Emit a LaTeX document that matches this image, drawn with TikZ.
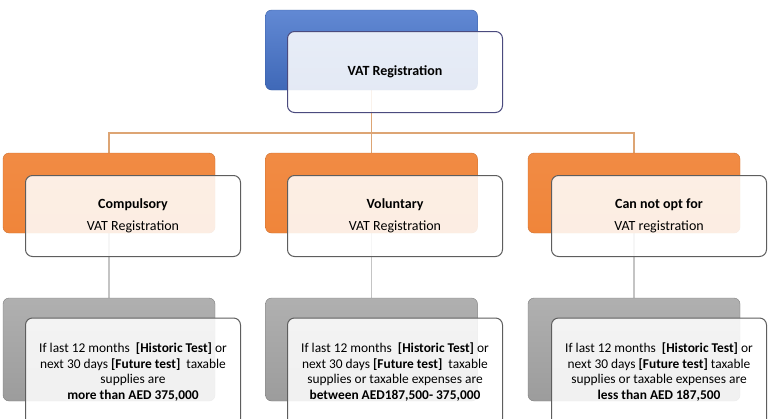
\documentclass[tikz,border=0pt]{standalone}
\usepackage{fontspec}
\setmainfont{Carlito}
\usepackage{xcolor}
\usepackage{tikz}
\usetikzlibrary{backgrounds}
\definecolor{vatblue}{HTML}{4674CC}
\definecolor{vatorange}{HTML}{F0853A}
\definecolor{vatgray}{HTML}{9C9C9C}
\definecolor{edgegray}{HTML}{5E5E5E}
\definecolor{barline}{HTML}{DDA574}
\definecolor{stemline}{HTML}{C4C4C4}
\newcommand{\condtext}[2]{If last 12 months~~\textbf{[Historic Test]} or\\
  next 30 days \textbf{[Future test]}#1taxable\\ #2}

\begin{document}
\begin{tikzpicture}[x=1pt, y=-1pt,
  back/.style={rounded corners=6pt, inner sep=0pt, minimum width=212pt,
               minimum height=80pt},
  bluebox/.style={back, draw=vatblue!80!black, top color=vatblue!85!white,
                  bottom color=vatblue!90!black},
  orangebox/.style={back, draw=vatorange!85!black, top color=vatorange!95!white,
                    bottom color=vatorange},
  graybox/.style={back, minimum height=103pt, draw=vatgray!80!black,
                  top color=vatgray!80!white, bottom color=vatgray},
  front/.style={draw=edgegray, line width=1pt, fill=white, fill opacity=0.86,
                text opacity=1, rounded corners=7pt, inner sep=0pt,
                minimum width=215pt, minimum height=81pt, align=center,
                font=\fontsize{14}{15.5}\selectfont},
  testbox/.style={front, minimum height=108pt,
                  font=\fontsize{13.4}{15.5}\selectfont},
  topline/.style={draw=barline, line width=1.1pt},
  stem/.style={draw=stemline, line width=1.1pt}]
\clip (0,0) rectangle (768,418);
\useasboundingbox (0,0) rectangle (768,418);
% top
\node[bluebox] (vatback) at (371.5,50) {};
\node[front, draw=edgegray!80!blue] (vat) at (395,72)
  {\textbf{VAT Registration}};
% middle row
\node[orangebox] (cmpback) at (109,193) {};
\node[orangebox] (volback) at (371.5,193) {};
\node[orangebox] (cnoback) at (634,193) {};
\node[front] (cmp) at (133,216) {\textbf{Compulsory}\\[6pt] VAT Registration};
\node[front] (vol) at (395,216) {\textbf{Voluntary}\\[6pt] VAT Registration};
\node[front] (cno) at (659,216) {\textbf{Can not opt for}\\[6pt] VAT registration};
% bottom row
\node[graybox] (cmpgray) at (109,349.5) {};
\node[graybox] (volgray) at (371.5,349.5) {};
\node[graybox] (cnogray) at (634,349.5) {};
\node[testbox] (cmptest) at (133,372)
  {\condtext{~~}{supplies are\\ \textbf{more than AED 375,000}}};
\node[testbox] (voltest) at (395,372)
  {\condtext{~~}{supplies or taxable expenses are\\
   \textbf{between AED187,500- 375,000}}};
\node[testbox] (cnotest) at (659,372)
  {\condtext{ }{supplies or taxable expenses are\\
   \textbf{less than AED 187,500}}};
% connectors
\begin{scope}[on background layer]
\coordinate (bar) at (371.5,133);
\foreach \c in {cmp,vol,cno}{
  \draw[topline] (vatback.center) -- (bar) -| (\c back.center);
  \draw[stem] (\c back.center) -- (\c gray.center);
}
\end{scope}
\end{tikzpicture}
\end{document}
